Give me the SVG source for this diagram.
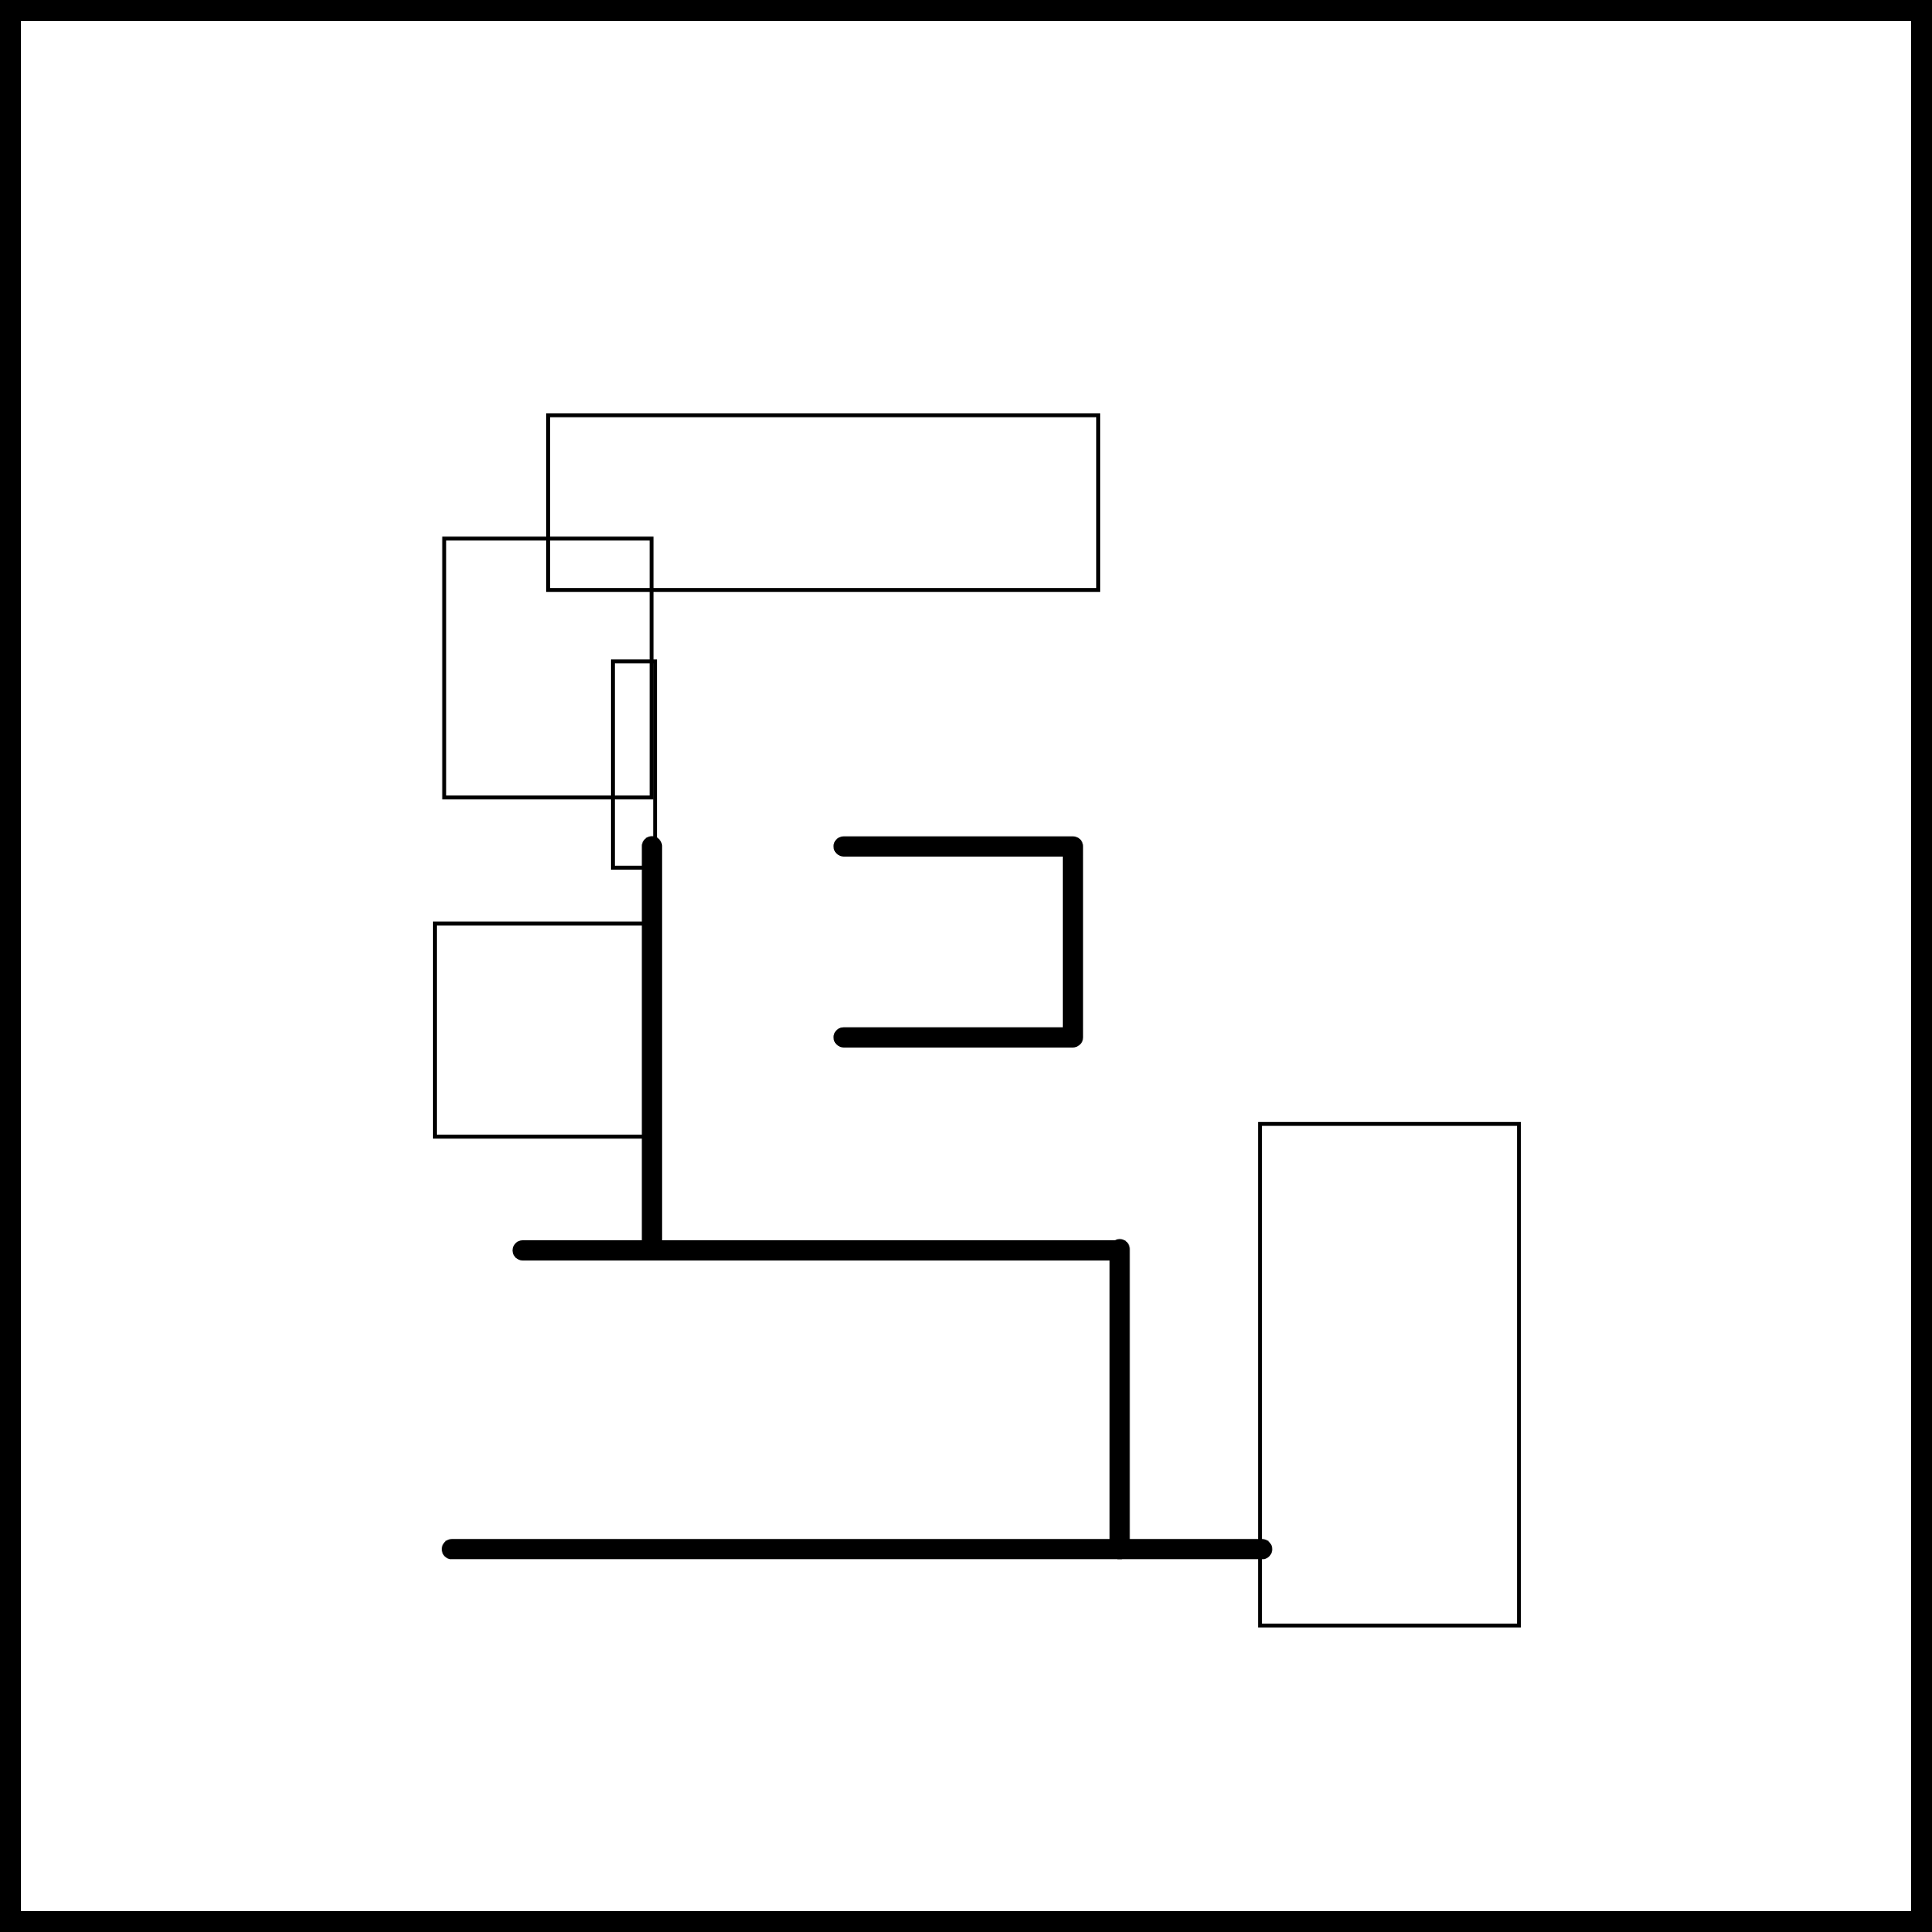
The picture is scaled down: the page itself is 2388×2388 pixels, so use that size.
<svg xmlns="http://www.w3.org/2000/svg" width="2388" height="2388" viewBox="0 0 2388 2388">
<style>
.frame{fill:none;stroke:#000;stroke-width:26}
.node{fill:none;stroke:#000;stroke-width:4.8}
.wire{fill:none;stroke:#000;stroke-width:25;stroke-linecap:round;stroke-linejoin:round}
.wireb{fill:none;stroke:#000;stroke-width:25;stroke-linecap:butt}
</style>
<rect width="2388" height="2388" fill="#fff"/>
<rect class="frame" x="13" y="13" width="2362" height="2362"/>
<g id="node-top"><rect class="node" x="677.5" y="513.3" width="680" height="216"/></g>
<g id="node-left-upper"><rect class="node" x="549" y="665.7" width="256.3" height="320"/></g>
<g id="node-narrow"><rect class="node" x="757.5" y="817.5" width="52.2" height="255"/></g>
<g id="node-left-lower"><rect class="node" x="537.5" y="1141.5" width="268" height="263.5"/></g>
<g id="node-right"><rect class="node" x="1557.5" y="1389.2" width="320" height="620"/></g>
<g id="connectors">
<path class="wire" d="M805.8,1046 V1545.5"/>
<path class="wire" d="M1042.8,1046.2 H1326.2 V1282.2 H1042.8"/>
<path class="wire" d="M646,1545.5 H1378"/>
<path class="wire" d="M1384,1544 V1914.8"/>
<path class="wire" d="M558.5,1914.8 H1560"/>
</g>
</svg>
